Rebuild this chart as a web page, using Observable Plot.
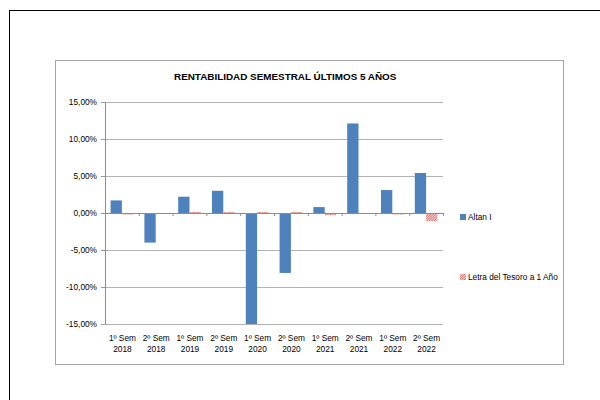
<!DOCTYPE html>
<html>
<head>
<meta charset="utf-8">
<script src="https://cdn.jsdelivr.net/npm/d3@7"></script>
<script src="https://cdn.jsdelivr.net/npm/@observablehq/plot@0.6"></script>
<style>
  html, body { margin: 0; padding: 0; background: #fff; }
  #wrap { position: relative; width: 600px; height: 400px; overflow: hidden; font-family: "Liberation Sans", Arial, sans-serif; }
  #outer { position: absolute; left: 9px; top: 10px; width: 640px; height: 440px; border: 1.5px solid #000; }
  #inner { position: absolute; left: 55px; top: 60px; width: 507px; height: 303px; border: 1px solid #a6a6a6; }
  #chart { position: absolute; left: 0; top: 0; }
  #title { position: absolute; left: 174px; width: 220px; top: 71px; text-align: center; white-space: nowrap; font-weight: bold; font-size: 9.9px; color: #000; }
  .leg { position: absolute; left: 460px; font-size: 8.3px; color: #000; white-space: nowrap; display: flex; align-items: center; }
  .leg svg { margin-right: 2px; }
</style>
</head>
<body>
<div id="wrap">
  <div id="outer"></div>
  <div id="inner"></div>
  <div id="chart"></div>
  <div id="title">RENTABILIDAD SEMESTRAL ÚLTIMOS 5 AÑOS</div>
  <div class="leg" style="top:212px"><svg width="6" height="6"><rect width="6" height="6" fill="#4f81bd"/></svg><span>Altan I</span></div>
  <div class="leg" style="top:272px"><svg width="6" height="6"><defs><pattern id="hatchL" patternUnits="userSpaceOnUse" width="2.5" height="2.5"><rect width="2.5" height="2.5" fill="#fff"/><path d="M-0.5,0.5 L0.5,-0.5 M0,2.5 L2.5,0 M2,3 L3,2" stroke="#d0504d" stroke-width="0.9"/></pattern></defs><rect width="6" height="6" fill="url(#hatchL)"/></svg><span>Letra del Tesoro a 1 Año</span></div>
</div>
<script>
const semestres = ["1º Sem", "2º Sem", "1º Sem", "2º Sem", "1º Sem", "2º Sem", "1º Sem", "2º Sem", "1º Sem", "2º Sem"];
const anios = ["2018", "2018", "2019", "2019", "2020", "2020", "2021", "2021", "2022", "2022"];
const altan = [1.7, -4.0, 2.2, 3.0, -15.0, -8.1, 0.8, 12.1, 3.1, 5.4];
const letra = [-0.2, 0.0, 0.15, 0.15, 0.15, 0.15, -0.3, -0.1, -0.2, -1.1];
const yTicks = [-15, -10, -5, 0, 5, 10, 15];

const rows = semestres.map((s, i) => ({i, label: s + "\n" + anios[i], altan: altan[i], letra: letra[i]}));
const fmt = d => d.toFixed(2).replace(".", ",") + "%";

const plot = Plot.plot({
  width: 600,
  height: 400,
  marginLeft: 105,
  marginRight: 157,
  marginTop: 102,
  marginBottom: 76,
  style: {background: "transparent", fontFamily: "Liberation Sans, Arial, sans-serif"},
  x: {domain: [0, rows.length], axis: null},
  y: {domain: [-15, 15], axis: null, clamp: true},
  marks: [
    Plot.gridY(yTicks, {stroke: "#b3b3b3", strokeOpacity: 1}),
    Plot.axisY(yTicks, {tickFormat: fmt, tickSize: 4, tickPadding: 4.5, stroke: "#999", fontSize: 8.3, fill: "#000"}),
    Plot.rectY(rows, {x1: d => d.i, x2: d => d.i + 1, y: "altan", fill: "#4f81bd", insetLeft: 5.6, insetRight: 16.9}),
    Plot.rectY(rows, {x1: d => d.i, x2: d => d.i + 1, y: "letra", fill: "url(#hatch)", insetLeft: 16.9, insetRight: 5.6}),
    Plot.ruleX([0], {stroke: "#8c8c8c"}),
    Plot.ruleY([0], {stroke: "#8c8c8c"}),
    Plot.ruleX(rows, {x: d => d.i + 1, y1: d => 0, y2: d => 0, insetBottom: -3, stroke: "#8c8c8c"}),
    Plot.text(rows, {x: d => d.i + 0.5, text: "label", frameAnchor: "bottom", lineAnchor: "top", dy: 9, lineHeight: 1.3, fontSize: 8.3, fill: "#000"})
  ]
});

const svg = d3.select(plot);
const pat = svg.insert("defs", ":first-child").append("pattern")
  .attr("id", "hatch").attr("patternUnits", "userSpaceOnUse").attr("width", 2.5).attr("height", 2.5);
pat.append("rect").attr("width", 2.5).attr("height", 2.5).attr("fill", "#fff");
pat.append("path").attr("d", "M-0.5,0.5 L0.5,-0.5 M0,2.5 L2.5,0 M2,3 L3,2").attr("stroke", "#d0504d").attr("stroke-width", 0.9);

document.getElementById("chart").appendChild(plot);
</script>
</body>
</html>
